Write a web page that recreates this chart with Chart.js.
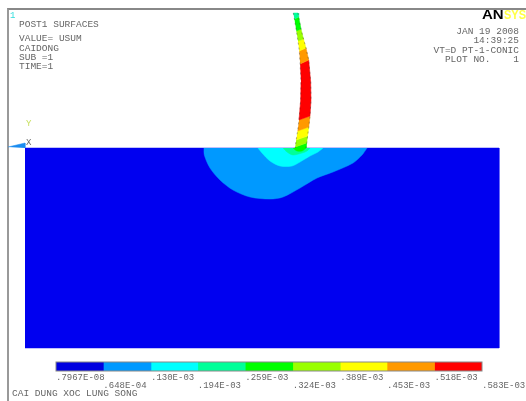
<!DOCTYPE html>
<html>
<head>
<meta charset="utf-8">
<title>POST1 SURFACES</title>
<script src="https://cdn.jsdelivr.net/npm/chart.js@4"></script>
<style>
    html, body { margin: 0; padding: 0; background: #fff; overflow: hidden; }
    #frame { position: absolute; left: 7px; top: 8px; width: 519px; height: 391px; border-left: 2px solid #999; border-top: 2px solid #888; border-bottom: 1px solid #bbb; box-sizing: content-box; }
    canvas { position: absolute; left: 0; }
    #grafico { top: 0; }
    #barra { top: 352px; }
</style>
</head>
<body>
<div id="frame"></div>
<canvas id="grafico" width="526" height="401"></canvas>
<canvas id="barra" width="526" height="40"></canvas>
<script>
// contour levels and legend colours
const niveis = [0.7967e-8, 0.648e-4, 0.130e-3, 0.194e-3, 0.259e-3, 0.324e-3, 0.389e-3, 0.453e-3, 0.518e-3, 0.583e-3];
const rotulosNiveis = [".7967E-08", ".648E-04", ".130E-03", ".194E-03", ".259E-03", ".324E-03", ".389E-03", ".453E-03", ".518E-03", ".583E-03"];
const cores = ["#0000e0", "#0099ff", "#00ffff", "#00ff99", "#00ff00", "#99ff00", "#ffff00", "#ff9900", "#ff0000"];

// model outlines
const bloco = [[0, 0], [474, 0], [474, -200], [0, -200]];
const contorno1 = [[179, 0], [179.3, -7], [185, -20], [195, -32], [208, -42], [225, -49], [245, -51], [258, -49], [275, -40], [292, -30], [308, -24], [328, -15], [337, -7], [342, 0]];
const contorno2 = [[233, 0], [237, -5], [245, -13], [255, -18], [267, -18], [275, -14], [285, -8], [293, -4], [298, 0]];
const contorno3 = [[258, 0], [262, -4], [268, -7], [277, -5], [282, -3], [285, 0]];
const contorno4 = [[268, 0], [272, -3], [277, -3], [281, 0]];

const faixa1 = [[268.3, 135], [273, 135], [273.7, 131], [269.4, 129]];
const faixa2 = [[269.4, 129], [273.7, 131], [276, 119], [271.4, 117]];
const faixa3 = [[271.4, 117], [276, 119], [278.5, 109], [273, 107]];
const faixa4 = [[273, 107], [278.5, 109], [281, 100], [274.3, 97]];
const faixa5 = [[274.3, 97], [281, 100], [283.7, 88], [275.1, 84]];
const faixa6 = [[275.1, 84], [283.7, 88], [285.7, 66], [286, 48], [285, 32], [274, 28], [275.7, 48], [276, 66]];
const faixa7 = [[274, 28], [285, 32], [283.8, 21], [272.6, 17]];
const faixa8 = [[272.6, 17], [283.8, 21], [282.6, 12], [271.2, 8]];
const faixa9 = [[271.2, 8], [282.6, 12], [281.7, 5], [270.2, 1]];
const faixa10 = [[270.2, 1], [281.7, 5], [281, 0], [270, 0]];

const bordaEsq = [[268.3, 135], [269.4, 129], [271.4, 117], [273, 107], [274.3, 97], [275.1, 84], [276, 66], [275.7, 48], [274, 28], [272.6, 17], [271.2, 8], [270.2, 1], [270, 0]];
const bordaDir = [[273, 135], [273.7, 131], [276, 119], [278.5, 109], [281, 100], [283.7, 88], [285.7, 66], [286, 48], [285, 32], [283.8, 21], [282.6, 12], [281.7, 5], [281, 0]];
const triade = [[-17, 1], [0, 5], [0, 0]];

// annotation text
const textosEsq = ["POST1 SURFACES", "VALUE= USUM", "CAIDONG", "SUB =1", "TIME=1"];
const textosDir = ["JAN 19 2008", "14:39:25", "VT=D PT-1-CONIC", "PLOT NO.    1"];
const rodape = "CAI DUNG XOC LUNG SONG";

function poligono(pontos, cor, ordem, curva) {
    return {
        data: pontos.map(p => ({ x: p[0], y: p[1] })),
        showLine: true,
        fill: 'shape',
        tension: curva || 0,
        pointRadius: 0,
        backgroundColor: cor,
        borderColor: cor,
        borderWidth: 0.5,
        order: ordem
    };
}

function borda(pontos) {
    return {
        data: pontos.map(p => ({ x: p[0], y: p[1] })),
        showLine: true,
        fill: false,
        tension: 0,
        pointRadius: 0,
        borderColor: 'rgba(40,40,40,0.55)',
        borderWidth: 0.7,
        borderDash: [2, 3],
        order: 1
    };
}

const pluginTextos = {
    id: 'textos',
    afterDraw(chart) {
        const ctx = chart.ctx;
        ctx.save();
        ctx.textBaseline = 'middle';
        ctx.font = '9.5px "Liberation Mono"';
        ctx.fillStyle = '#666';

        ctx.textAlign = 'left';
        ctx.fillText(textosEsq[0], 19, 24);
        ctx.fillText(textosEsq[1], 19, 38);
        ctx.fillText(textosEsq[2], 19, 48);
        ctx.fillText(textosEsq[3], 19, 57);
        ctx.fillText(textosEsq[4], 19, 66);
        ctx.fillText(rodape, 12, 393);

        ctx.textAlign = 'right';
        ctx.fillText(textosDir[0], 519, 31);
        ctx.fillText(textosDir[1], 519, 40);
        ctx.fillText(textosDir[2], 519, 50);
        ctx.fillText(textosDir[3], 519, 59);

        // logo: wide black AN, squeezed pale SYS running up to the window edge
        ctx.textAlign = 'left';
        ctx.font = 'bold 12.5px "Liberation Sans"';
        ctx.save();
        ctx.translate(482, 15.5);
        ctx.scale(1.2, 1);
        ctx.fillStyle = '#000';
        ctx.fillText("AN", 0, 0);
        ctx.restore();
        ctx.save();
        ctx.translate(504, 15.5);
        ctx.scale(0.88, 1);
        ctx.fillStyle = '#ffff44';
        ctx.fillText("SYS", 0, 0);
        ctx.restore();

        ctx.font = '9px "Liberation Mono"';
        ctx.fillStyle = '#c8e060';
        ctx.fillText("Y", 26, 124);
        ctx.fillStyle = '#666';
        ctx.fillText("X", 26, 143);
        ctx.fillStyle = '#33dddd';
        ctx.fillText("1", 10, 16);
        ctx.restore();
    }
};

new Chart(document.getElementById('grafico'), {
    type: 'scatter',
    data: {
        datasets: [
            poligono(bloco, '#0000f0', 20),
            poligono(contorno1, cores[1], 19, 0.3),
            poligono(contorno2, cores[2], 18, 0.3),
            poligono(contorno3, cores[3], 17, 0.3),
            poligono(contorno4, cores[4], 16, 0.3),
            poligono(faixa1, cores[3], 10),
            poligono(faixa2, cores[4], 10),
            poligono(faixa3, cores[5], 10),
            poligono(faixa4, cores[6], 10),
            poligono(faixa5, cores[7], 10),
            poligono(faixa6, cores[8], 10),
            poligono(faixa7, cores[7], 10),
            poligono(faixa8, cores[6], 10),
            poligono(faixa9, cores[5], 10),
            poligono(faixa10, cores[4], 10),
            poligono(triade, '#1a8cf0', 5),
            borda(bordaEsq),
            borda(bordaDir)
        ]
    },
    options: {
        responsive: false,
        animation: false,
        layout: { padding: 0 },
        plugins: { legend: { display: false }, tooltip: { enabled: false } },
        scales: {
            x: { type: 'linear', min: -25, max: 501, display: false },
            y: { type: 'linear', min: -253, max: 148, display: false }
        }
    },
    plugins: [pluginTextos]
});

const pluginMoldura = {
    id: 'moldura',
    afterDatasetsDraw(chart) {
        const a = chart.chartArea;
        chart.ctx.save();
        chart.ctx.strokeStyle = '#888';
        chart.ctx.lineWidth = 1;
        chart.ctx.strokeRect(a.left, a.top, a.right - a.left, a.bottom - a.top);
        chart.ctx.restore();
    }
};

new Chart(document.getElementById('barra'), {
    type: 'bar',
    data: {
        labels: [''],
        datasets: cores.map((cor, i) => ({
            data: [[niveis[i], niveis[i + 1]]],
            backgroundColor: cor,
            barPercentage: 1,
            categoryPercentage: 1
        }))
    },
    options: {
        indexAxis: 'y',
        responsive: false,
        animation: false,
        layout: { padding: { left: 56, right: 44, top: 10, bottom: 0 } },
        plugins: { legend: { display: false }, tooltip: { enabled: false } },
        scales: {
            y: { stacked: true, display: false },
            x: {
                type: 'linear',
                min: niveis[0],
                max: niveis[9],
                grid: { display: false, drawTicks: false },
                border: { display: false },
                afterBuildTicks(scale) {
                    scale.ticks = niveis.map(v => ({ value: v }));
                },
                afterFit(scale) {
                    scale.paddingLeft = 0;
                    scale.paddingRight = 0;
                    scale.height = 21;
                },
                ticks: {
                    autoSkip: false,
                    maxRotation: 0,
                    minRotation: 0,
                    align: 'start',
                    padding: 2,
                    color: '#666',
                    font: { family: '"Liberation Mono"', size: 9, lineHeight: '8.5px' },
                    callback(valor, i) {
                        return i % 2 === 0 ? [rotulosNiveis[i], ''] : ['', rotulosNiveis[i]];
                    }
                }
            }
        }
    },
    plugins: [pluginMoldura]
});
</script>
</body>
</html>
